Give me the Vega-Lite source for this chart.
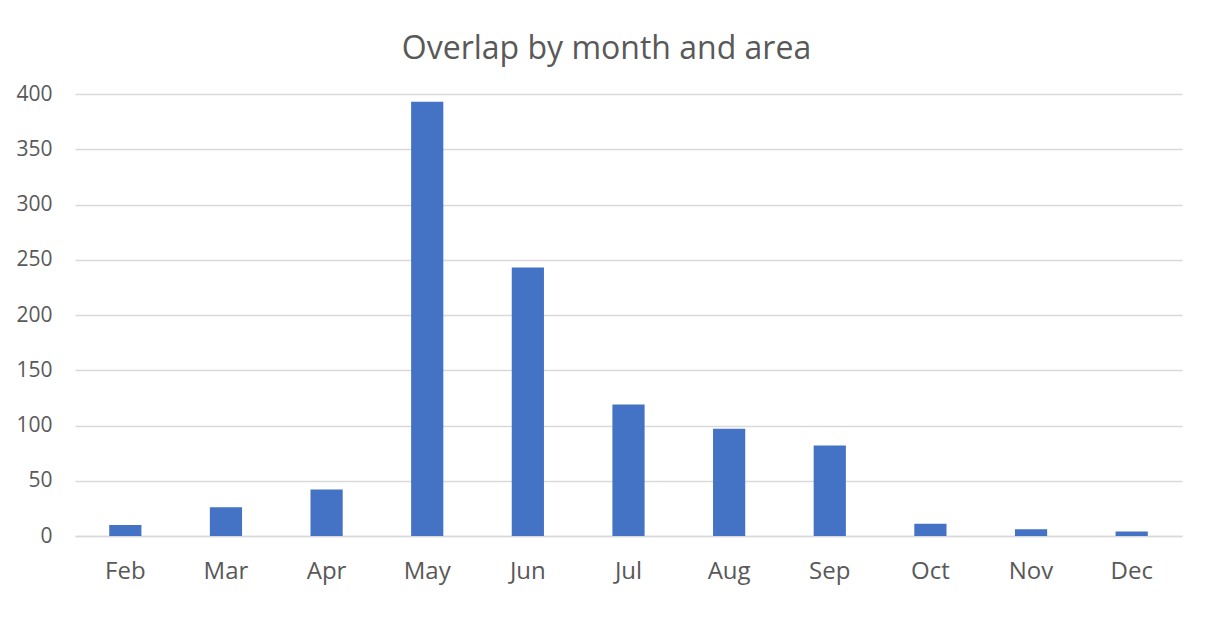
{
  "$schema": "https://vega.github.io/schema/vega-lite/v6.json",
  "autosize": "none",
  "width": 1107,
  "height": 442,
  "padding": {"left": 75, "top": 94, "right": 26, "bottom": 83},
  "background": "white",
  "title": {
    "text": "Overlap by month and area",
    "fontSize": 32,
    "font": "Open Sans",
    "fontWeight": "normal",
    "color": "#595959",
    "anchor": "middle",
    "dx": -22,
    "offset": 17
  },
  "data": {
    "values": [
      {"month": "Feb", "value": 10},
      {"month": "Mar", "value": 26},
      {"month": "Apr", "value": 42},
      {"month": "May", "value": 393},
      {"month": "Jun", "value": 243},
      {"month": "Jul", "value": 119},
      {"month": "Aug", "value": 97},
      {"month": "Sep", "value": 82},
      {"month": "Oct", "value": 11},
      {"month": "Nov", "value": 6},
      {"month": "Dec", "value": 4}
    ]
  },
  "mark": {"type": "bar", "color": "#4472C4", "width": {"band": 0.32}},
  "encoding": {
    "x": {
      "field": "month",
      "type": "nominal",
      "sort": null,
      "title": null,
      "scale": {"paddingInner": 0, "paddingOuter": 0},
      "axis": {
        "labelAngle": 0,
        "labelFont": "Open Sans",
        "labelFontSize": 24,
        "labelColor": "#595959",
        "labelPadding": 23,
        "ticks": false,
        "domainColor": "#d9d9d9",
        "domainWidth": 1.5,
        "grid": false
      }
    },
    "y": {
      "field": "value",
      "type": "quantitative",
      "title": null,
      "scale": {"domain": [0, 400], "nice": false},
      "axis": {
        "values": [0, 50, 100, 150, 200, 250, 300, 350, 400],
        "labelFont": "Open Sans",
        "labelFontSize": 21,
        "labelColor": "#595959",
        "labelPadding": 23,
        "ticks": false,
        "domain": false,
        "grid": true,
        "gridColor": "#d9d9d9",
        "gridWidth": 1.5
      }
    }
  },
  "config": {"view": {"stroke": null}}
}
